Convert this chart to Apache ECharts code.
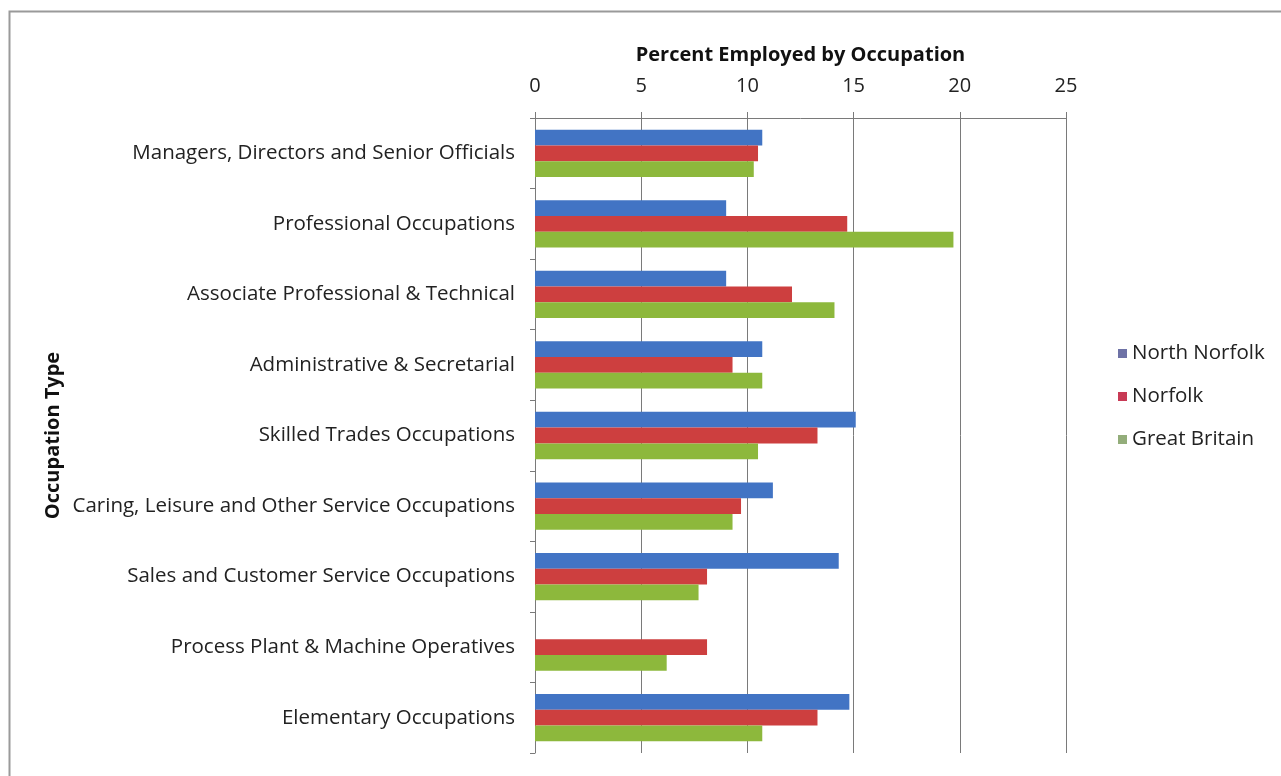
<!DOCTYPE html>
<html>
<head>
<meta charset="utf-8">
<script src="https://cdn.jsdelivr.net/npm/echarts@6/dist/echarts.min.js"></script>
<style>
html,body{margin:0;padding:0;background:#fff;}
#chart{width:1281px;height:776px;}
</style>
</head>
<body>
<div id="chart"></div>
<script>
const categories = [
  "Managers, Directors and Senior Officials",
  "Professional Occupations",
  "Associate Professional & Technical",
  "Administrative & Secretarial",
  "Skilled Trades Occupations",
  "Caring, Leisure and Other Service Occupations",
  "Sales and Customer Service Occupations",
  "Process Plant & Machine Operatives",
  "Elementary Occupations"
];
const seriesNames = ["North Norfolk", "Norfolk", "Great Britain"];
const northNorfolk = [10.7, 9.0, 9.0, 10.7, 15.1, 11.2, 14.3, null, 14.8];
const norfolk      = [10.5, 14.7, 12.1, 9.3, 13.3, 9.7, 8.1, 8.1, 13.3];
const greatBritain = [10.3, 19.7, 14.1, 10.7, 10.5, 9.3, 7.7, 6.2, 10.7];
const xTicks = { min: 0, max: 25, interval: 5 };

const font = "'Open Sans', sans-serif";
const barColors = ["#4274c4", "#cd3f3f", "#8db83c"];
const legendColors = ["#6e72a6", "#c83a55", "#93ad7a"];

const chart = echarts.init(document.getElementById('chart'), null, {renderer: 'canvas'});
const values = [northNorfolk, norfolk, greatBritain];

chart.setOption({
  backgroundColor: '#fff',
  animation: false,
  graphic: [{
    type: 'rect', left: 7, top: 9,
    shape: { width: 1300, height: 800 },
    style: { fill: 'none', stroke: '#9a9a9a', lineWidth: 2 }
  }],
  grid: { left: 535, right: 215, top: 118, bottom: 23, containLabel: false },
  legend: {
    orient: 'vertical', left: 1113, top: 338, itemGap: 22,
    itemWidth: 9, itemHeight: 9, icon: 'rect',
    textStyle: { fontFamily: font, fontSize: 20.5, color: '#222' },
    data: seriesNames.map((n, i) => ({ name: n, itemStyle: { color: legendColors[i] } }))
  },
  xAxis: {
    type: 'value', position: 'top',
    min: xTicks.min, max: xTicks.max, interval: xTicks.interval,
    name: 'Percent Employed by Occupation', nameLocation: 'middle', nameGap: 53,
    nameTextStyle: { fontFamily: font, fontSize: 20, fontWeight: 'bold', color: '#111' },
    axisLine: { show: true, lineStyle: { color: '#7a7a7a', width: 1 } },
    axisTick: { show: true, inside: false, length: 6, lineStyle: { color: '#7a7a7a' } },
    axisLabel: { fontFamily: font, fontSize: 20, color: '#222', margin: 22 },
    splitLine: { show: true, lineStyle: { color: '#7a7a7a', width: 1 } }
  },
  yAxis: {
    type: 'category', inverse: true, data: categories,
    name: 'Occupation Type', nameLocation: 'middle', nameGap: 472, nameRotate: 90,
    nameTextStyle: { fontFamily: font, fontSize: 20, fontWeight: 'bold', color: '#111' },
    axisLine: { show: true, lineStyle: { color: '#7a7a7a', width: 1 } },
    axisTick: { show: true, alignWithLabel: false, length: 5, lineStyle: { color: '#7a7a7a' } },
    axisLabel: { fontFamily: font, fontSize: 20.5, color: '#222', margin: 20 }
  },
  series: seriesNames.map((n, i) => ({
    name: n, type: 'bar', data: values[i],
    barCategoryGap: '33%', barGap: '0%',
    itemStyle: { color: barColors[i] }
  }))
});
</script>
</body>
</html>
